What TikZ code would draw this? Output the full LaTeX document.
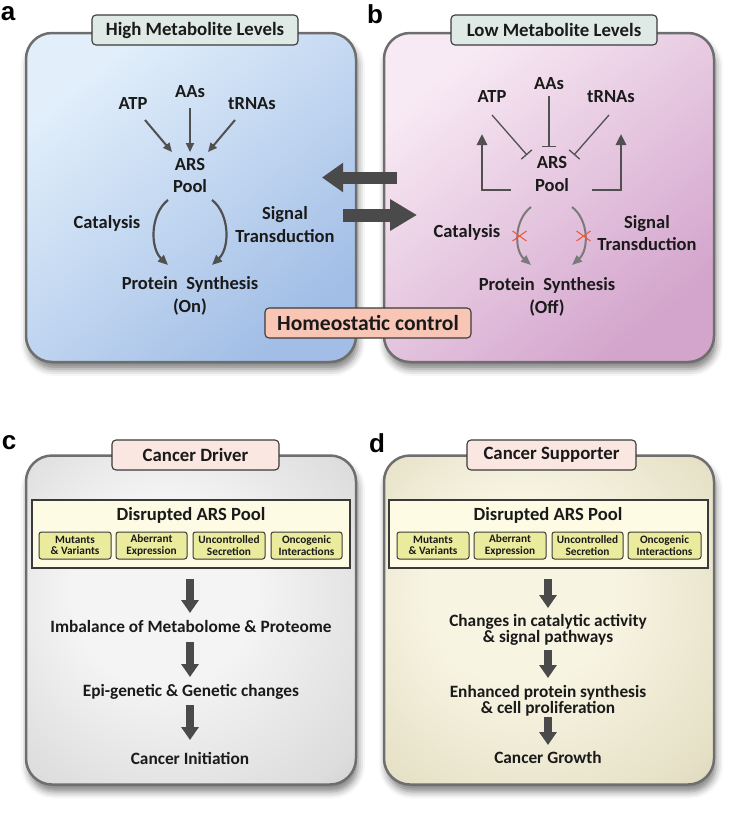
\documentclass[tikz,border=0pt]{standalone}
\usepackage{fontspec}
\setmainfont{Carlito}
\newfontfamily\labfont{Liberation Sans}
\usetikzlibrary{arrows.meta,shadows.blur}
\definecolor{txt}{HTML}{1A1A1A}
\definecolor{panelline}{HTML}{6E6E6E}
\definecolor{tabline}{HTML}{3A3A3A}
\definecolor{arr}{HTML}{505050}
\definecolor{arrlight}{HTML}{7A7A7A}
\definecolor{bigarr}{HTML}{4A4A4A}
\definecolor{tabab}{HTML}{DFE9E5}
\definecolor{tabcd}{HTML}{FBE7E1}
\definecolor{homeo}{HTML}{F9C6B5}
\definecolor{dispool}{HTML}{FDFBE3}
\definecolor{smallbox}{HTML}{EBEB9E}
\definecolor{crossred}{HTML}{EE5A3A}
\definecolor{blueA}{HTML}{E2EFFB}
\definecolor{blueB}{HTML}{A2BEE6}
\definecolor{pinkA}{HTML}{F8EAF4}
\definecolor{pinkB}{HTML}{D3A4CC}
\definecolor{grayA}{HTML}{F4F4F4}
\definecolor{grayM}{HTML}{DCDCDC}
\definecolor{grayB}{HTML}{B0B0B0}
\definecolor{beigeA}{HTML}{F7F4E2}
\definecolor{beigeM}{HTML}{E5E0C5}
\definecolor{beigeB}{HTML}{C2BC9B}
\pgfdeclareradialshading{softgray}{\pgfpoint{-6bp}{6bp}}{color(0bp)=(grayA); color(14bp)=(grayA); color(34bp)=(grayM); color(50bp)=(grayB)}
\pgfdeclareradialshading{softbeige}{\pgfpoint{-6bp}{6bp}}{color(0bp)=(beigeA); color(14bp)=(beigeA); color(34bp)=(beigeM); color(50bp)=(beigeB)}
\begin{document}
\begin{tikzpicture}[x=1pt,y=-1pt,
  panel/.style={rounded corners=26pt, draw=panelline, line width=2.5pt,
    minimum width=330pt, minimum height=329pt, inner sep=0pt,
    blur shadow={shadow xshift=2pt, shadow yshift=-7pt, shadow blur radius=7pt, shadow opacity=50}},
  tab/.style={draw=tabline, line width=1.1pt, rounded corners=4pt, inner sep=0pt,
    minimum height=30pt, text=txt, font=\bfseries\fontsize{18.8}{20}\selectfont},
  lbl/.style={text=txt, align=center, inner sep=0pt, font=\bfseries\fontsize{18.5}{22.5}\selectfont},
  flow/.style={text=txt, align=center, inner sep=0pt, font=\bfseries\fontsize{17.3}{16.5}\selectfont},
  panlbl/.style={text=black, inner sep=0pt, font=\labfont\bfseries\fontsize{26}{26}\selectfont},
  pool/.style={draw=tabline, line width=1.1pt, fill=dispool, minimum width=318pt, minimum height=68pt, inner sep=0pt},
  sbox/.style={draw=tabline, line width=1pt, fill=smallbox, rounded corners=2.5pt, minimum height=27pt,
    inner sep=0pt, align=center, text=txt, font=\bfseries\fontsize{11.3}{11.3}\selectfont},
  thin/.style={draw=arr, line width=2pt, -{Triangle[length=9pt,width=8pt]}},
  inh/.style={draw=arr, line width=1.3pt, -{Bar[width=14pt,line width=1.3pt]}},
  feed/.style={draw=arr, line width=2.6pt, -{Triangle[length=11pt,width=10pt]}},
  curvdark/.style={draw=arr, line width=2.2pt, -{Triangle[length=10pt,width=8.5pt]}},
  curvlight/.style={draw=arrlight, line width=2pt, -{Triangle[length=10pt,width=8pt]}},
  down/.style={draw=bigarr, line width=7.5pt, -{Triangle[length=13pt,width=17pt]}},
  cross/.style={draw=crossred, line width=1.1pt}
]
\useasboundingbox (0,0) rectangle (748,819);

% ---------- panels ----------
\node[panel, top color=blueA, bottom color=blueB, shading angle=40] (pa) at (191,197.5) {};
\node[panel, top color=pinkA, bottom color=pinkB, shading angle=40] (pb) at (549,197.5) {};
\node[panel, shading=softgray] (pc) at (191,620) {};
\node[panel, shading=softbeige] (pd) at (549,620) {};

% ---------- panel letters ----------
\node[panlbl] (la) at (8,14) {a};
\node[panlbl] (lb) at (375,14) {b};
\node[panlbl] (lc) at (9,443) {c};
\node[panlbl] (ld) at (377,443) {d};

% ---------- tabs ----------
\node[tab, fill=tabab, minimum width=206pt] (ta) at (195,30) {High Metabolite Levels};
\node[tab, fill=tabab, minimum width=206pt] (tb) at (554,30) {Low Metabolite Levels};
\node[tab, fill=tabcd, minimum width=167pt] (tc) at (195.5,455) {Cancer Driver};
\node[tab, fill=tabcd, minimum width=169pt] (td) at (551.5,455) {Cancer Supporter};

% ---------- panel a ----------
\node[lbl] (atpA) at (133,104) {ATP};
\node[lbl] (aasA) at (190,92) {AAs};
\node[lbl] (trnaA) at (252,104) {tRNAs};
\node[lbl] (arsA) at (190,175.5) {ARS\\Pool};
\node[lbl] (catA) at (107,223) {Catalysis};
\node[lbl] (sigA) at (285,224.5) {Signal\\Transduction};
\node[lbl] (psA) at (190,296) {Protein~~Synthesis\\(On)};

\coordinate (a1s) at (145,120); \coordinate (a1e) at (172,152);
\coordinate (a2s) at (190,108); \coordinate (a2e) at (190,152);
\coordinate (a3s) at (235,120); \coordinate (a3e) at (208,152);
\draw[thin] (a1s) -- (a1e);
\draw[thin] (a2s) -- (a2e);
\draw[thin] (a3s) -- (a3e);
\coordinate (acl1) at (168,200); \coordinate (acl2) at (168,265);
\coordinate (acr1) at (212,200); \coordinate (acr2) at (212,265);
\draw[curvdark] (acl1) .. controls (150,214) and (150,248) .. (acl2);
\draw[curvdark] (acr1) .. controls (230,214) and (230,248) .. (acr2);

% ---------- panel b ----------
\node[lbl] (atpB) at (492,97) {ATP};
\node[lbl] (aasB) at (549,84) {AAs};
\node[lbl] (trnaB) at (611,97) {tRNAs};
\node[lbl] (arsB) at (552,174) {ARS\\Pool};
\node[lbl] (catB) at (467,232) {Catalysis};
\node[lbl] (sigB) at (647,233) {Signal\\Transduction};
\node[lbl] (psB) at (547,297) {Protein~~Synthesis\\(Off)};

\coordinate (b1s) at (492,115); \coordinate (b1e) at (527,155);
\coordinate (b2s) at (549,96);  \coordinate (b2e) at (549,147);
\coordinate (b3s) at (609,115); \coordinate (b3e) at (574,155);
\draw[inh] (b1s) -- (b1e);
\draw[inh] (b2s) -- (b2e);
\draw[inh] (b3s) -- (b3e);
\coordinate (fl1) at (511,190); \coordinate (fl2) at (482,134);
\coordinate (fr1) at (592,190); \coordinate (fr2) at (621,134);
\draw[feed] (fl1) -- (482,190) -- (fl2);
\draw[feed] (fr1) -- (621,190) -- (fr2);
\coordinate (bcl1) at (531,207); \coordinate (bcl2) at (531,265);
\coordinate (bcr1) at (572,207); \coordinate (bcr2) at (572,265);
\draw[curvlight] (bcl1) .. controls (514,220) and (514,250) .. (bcl2);
\draw[curvlight] (bcr1) .. controls (589,220) and (589,250) .. (bcr2);
\coordinate (xl) at (519.5,236); \coordinate (xr) at (583.5,236);
\draw[cross] ([shift={(-7,-5)}]xl) -- ([shift={(7,5)}]xl);
\draw[cross] ([shift={(-7,5)}]xl) -- ([shift={(7,-5)}]xl);
\draw[cross] ([shift={(-7,-5)}]xr) -- ([shift={(7,5)}]xr);
\draw[cross] ([shift={(-7,5)}]xr) -- ([shift={(7,-5)}]xr);

% ---------- big arrows between a and b ----------
\coordinate (bl1) at (397,177.5); \coordinate (bl2) at (322,177.5);
\coordinate (br1) at (343,215); \coordinate (br2) at (417,215);
\draw[draw=bigarr, line width=12pt, -{Triangle[length=21pt,width=28pt]}] (bl1) -- (bl2);
\draw[draw=bigarr, line width=13pt, -{Triangle[length=27pt,width=30pt]}] (br1) -- (br2);

% ---------- homeostatic control ----------
\node[draw=tabline, line width=1.1pt, fill=homeo, rounded corners=4pt, minimum width=206pt,
  minimum height=30pt, inner sep=0pt, text=txt, font=\bfseries\fontsize{21.6}{23}\selectfont]
  (homeo) at (368,323) {Homeostatic control};

% ---------- panel c ----------
\node[pool] (poolC) at (191,534) {};
\node[text=txt, inner sep=0pt, font=\bfseries\fontsize{18.6}{20}\selectfont] (poolCt) at (191,515) {Disrupted ARS Pool};
\node[sbox, minimum width=72pt] (c1) at (75,545.5) {Mutants\\\& Variants};
\node[sbox, minimum width=71pt] (c2) at (151.5,545.5) {Aberrant\\Expression};
\node[sbox, minimum width=72pt] (c3) at (229,545.5) {Uncontrolled\\Secretion};
\node[sbox, minimum width=71pt] (c4) at (306.5,545.5) {Oncogenic\\Interactions};
\node[flow] (c5) at (191,626) {Imbalance of Metabolome \& Proteome};
\node[flow] (c6) at (191,692) {Epi-genetic \& Genetic changes};
\node[flow] (c7) at (190,758) {Cancer Initiation};
\coordinate (cd1s) at (190,579); \coordinate (cd1e) at (190,613);
\coordinate (cd2s) at (190,642); \coordinate (cd2e) at (190,677);
\coordinate (cd3s) at (190,705); \coordinate (cd3e) at (190,740);
\draw[down] (cd1s) -- (cd1e);
\draw[down] (cd2s) -- (cd2e);
\draw[down] (cd3s) -- (cd3e);

% ---------- panel d ----------
\node[pool, minimum width=319pt] (poolD) at (548.5,534) {};
\node[text=txt, inner sep=0pt, font=\bfseries\fontsize{18.6}{20}\selectfont] (poolDt) at (548,515) {Disrupted ARS Pool};
\node[sbox, minimum width=72pt] (d1) at (433,545.5) {Mutants\\\& Variants};
\node[sbox, minimum width=72pt] (d2) at (510,545.5) {Aberrant\\Expression};
\node[sbox, minimum width=71pt] (d3) at (587.5,545.5) {Uncontrolled\\Secretion};
\node[sbox, minimum width=73pt] (d4) at (664.5,545.5) {Oncogenic\\Interactions};
\node[flow] (d5) at (548,630) {Changes in catalytic activity\\\& signal pathways};
\node[flow] (d6) at (548,701) {Enhanced protein synthesis\\\& cell proliferation};
\node[flow] (d7) at (548,757) {Cancer Growth};
\coordinate (dd1s) at (548,579); \coordinate (dd1e) at (548,608);
\coordinate (dd2s) at (548,650); \coordinate (dd2e) at (548,678);
\coordinate (dd3s) at (548,717); \coordinate (dd3e) at (548,745);
\draw[down] (dd1s) -- (dd1e);
\draw[down] (dd2s) -- (dd2e);
\draw[down] (dd3s) -- (dd3e);
\end{tikzpicture}
\end{document}
